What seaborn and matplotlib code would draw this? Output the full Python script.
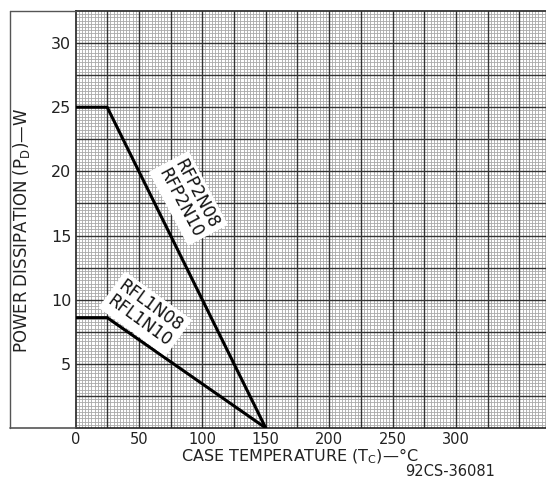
import matplotlib
matplotlib.use("Agg")
import matplotlib.pyplot as plt
import seaborn as sns
import numpy as np
import pandas as pd
from matplotlib.lines import Line2D

# ---- data ----
case_temp = [0, 25, 150]
rfp2n_power = [25, 25, 0]
rfl1n_power = [8.6, 8.6, 0]
x_tick_values = [0, 50, 100, 150, 200, 250, 300]
y_tick_values = [5, 10, 15, 20, 25, 30]
label_rfp = "RFP2N08\nRFP2N10"
label_rfl = "RFL1N08\nRFL1N10"
x_title = "CASE TEMPERATURE (T$_\\mathrm{C}$)—°C"
y_title = "POWER DISSIPATION (P$_\\mathrm{D}$)—W"
fig_code = "92CS-36081"

sns.set_theme(style="white")
plt.rcParams['font.family'] = ['DejaVu Sans']

W, H = 546, 484
fig = plt.figure(figsize=(W / 100, H / 100), dpi=100)
fig.patch.set_facecolor("white")
left, right, top, bottom = 75.5, 546, 11, 428
ax = fig.add_axes([left / W, 1 - bottom / H, (right - left) / W, (bottom - top) / H])
xmax, ymax = 371, 32.5
ax.set_xlim(0, xmax)
ax.set_ylim(0, ymax)
ax.set_facecolor("white")

# graph-paper grid
ax.vlines(np.arange(2.5, xmax, 2.5), 0, ymax, color="#a8a8a8", lw=0.6, zorder=0)
ax.hlines(np.arange(0.25, ymax, 0.25), 0, xmax, color="#a8a8a8", lw=0.6, zorder=0)
ax.vlines(np.arange(25, xmax, 25), 0, ymax, color="#333333", lw=1.0, zorder=1)
ax.hlines(np.arange(2.5, ymax, 2.5), 0, xmax, color="#333333", lw=1.0, zorder=1)

df = pd.DataFrame({"temp": case_temp, "rfp": rfp2n_power, "rfl": rfl1n_power})
sns.lineplot(data=df, x="temp", y="rfp", ax=ax, color="black", lw=2.2, legend=False, zorder=5)
sns.lineplot(data=df, x="temp", y="rfl", ax=ax, color="black", lw=2.2, legend=False, zorder=5)

ax.set_xlabel("")
ax.set_ylabel("")
ax.set_xticks(x_tick_values)
ax.set_yticks(y_tick_values)
ax.tick_params(axis="x", length=0, pad=3, labelsize=10.5, colors="#222222")
ax.tick_params(axis="y", length=0, pad=3, labelsize=11.5, colors="#222222")
for s in ["left", "bottom", "top"]:
    ax.spines[s].set_color("#222222")
    ax.spines[s].set_linewidth(1.2)
ax.spines["right"].set_visible(False)

# outer frame
fx = lambda px: px / W
fy = lambda py: 1 - py / H
fc = "#555555"
fig.add_artist(Line2D([fx(10), fx(10)], [fy(11), fy(428)], transform=fig.transFigure, color=fc, lw=1.0))
fig.add_artist(Line2D([fx(10), fx(left)], [fy(11), fy(11)], transform=fig.transFigure, color=fc, lw=1.0))
fig.add_artist(Line2D([fx(10), fx(left)], [fy(428), fy(428)], transform=fig.transFigure, color=fc, lw=1.2))

# annotations
ax.text(89, 17.9, label_rfp, rotation=-62, rotation_mode="anchor", ha="center", va="center",
        fontsize=12, linespacing=1.05, color="#111111",
        bbox=dict(fc="white", ec="none", pad=3), zorder=6)
ax.text(55, 8.9, label_rfl, rotation=-36, rotation_mode="anchor", ha="center", va="center",
        fontsize=12, linespacing=1.05, color="#111111",
        bbox=dict(fc="white", ec="none", pad=3), zorder=6)

fig.text(fx(300), fy(456), x_title, ha="center", va="center", fontsize=11.5, color="#222222")
fig.text(fx(22), fy(230), y_title, ha="center", va="center", rotation=90, fontsize=12, color="#222222")
fig.text(fx(450), fy(472), fig_code, ha="center", va="center", fontsize=10.5, color="#222222")

fig.savefig("out.png", dpi=100, facecolor="white")
